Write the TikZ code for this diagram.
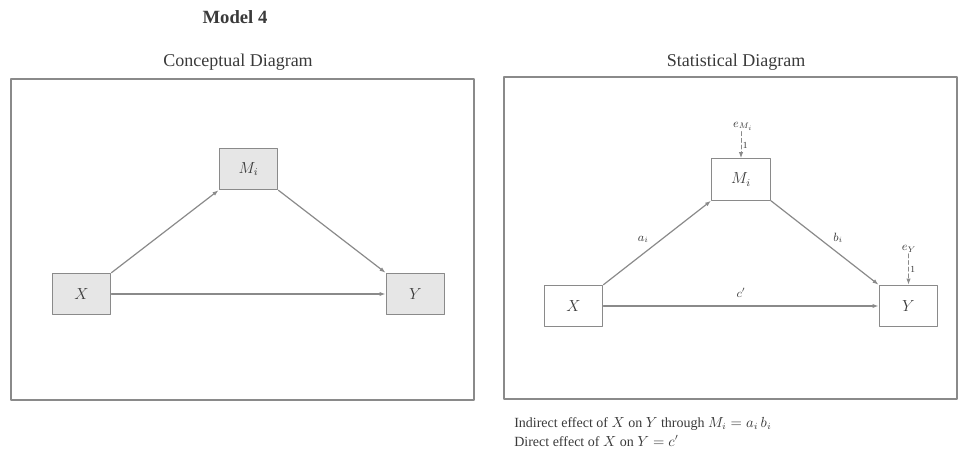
\documentclass[tikz,border=0pt]{standalone}
\usepackage{amsmath,amssymb}
\usepackage{fontspec}
\setmainfont{Liberation Serif}
\usepackage{xcolor}
\usepackage{tikz}
\usetikzlibrary{arrows.meta,positioning}
\definecolor{frame}{HTML}{8A8A8A}
\definecolor{ink}{HTML}{3A3A3A}
\definecolor{softgray}{HTML}{E6E6E6}
\tikzset{
    every picture/.style={line cap=round,line join=round},
    panel/.style={draw=frame,line width=1.1pt},
    varbox/.style={draw=frame,line width=0.9pt,minimum width=44pt,minimum height=31pt,
      inner sep=1pt,text=ink,font=\large},
    shaded/.style={fill=softgray},
    patharrow/.style={-{Latex[length=4.5pt,width=3.2pt]},draw=frame,line width=0.9pt},
    errarrow/.style={patharrow,densely dashed,line width=0.7pt},
    coef/.style={text=ink,font=\small,inner sep=1pt},
    heading/.style={text=ink,font=\fontsize{13.5}{16}\selectfont},
    notes/.style={text=ink,font=\fontsize{10.5}{12}\selectfont,anchor=west,inner sep=0pt}
}
\begin{document}
\begin{tikzpicture}[x=0.75pt,y=-0.75pt]
  \useasboundingbox (0,0) rectangle (961,459);
  \node[text=ink,font=\fontsize{14}{16}\selectfont\bfseries] (title) at (235,17) {Model 4};

  % conceptual diagram
  \node[heading] (ctitle) at (238,62) {Conceptual Diagram};
  \draw[panel] (11,79) rectangle (474,400);
  \node[varbox,shaded] (cx) at (81.5,294) {$X$};
  \node[varbox,shaded] (cm) at (248.5,169) {$M_i$};
  \node[varbox,shaded] (cy) at (415.5,294) {$Y$};
  \draw[patharrow] (cx.north east) -- (cm.south west);
  \draw[patharrow] (cm.south east) -- (cy.north west);
  \draw[patharrow] (cx.east) -- (cy.west);

  % statistical diagram
  \node[heading] (stitle) at (736,62) {Statistical Diagram};
  \draw[panel] (504,77) rectangle (957,399);
  \node[varbox] (sx) at (573.5,306) {$X$};
  \node[varbox] (sm) at (741,179.5) {$M_i$};
  \node[varbox] (sy) at (908.5,306) {$Y$};
  \node[coef] (em) at (743,126) {$e_{M_i}$};
  \node[coef] (ey) at (909,249) {$e_Y$};
  \draw[errarrow] (em.south -| sm.north) -- node[coef,right,font=\scriptsize]{1} (sm.north);
  \draw[errarrow] (ey.south -| sy.north) -- node[coef,right,font=\scriptsize]{1} (sy.north);
  \draw[patharrow] (sx.north east) -- node[coef,above left=2pt and 1pt,pos=0.45]{$a_i$} (sm.south west);
  \draw[patharrow] (sm.south east) -- node[coef,above right=2pt and 1pt,pos=0.55]{$b_i$} (sy.north west);
  \draw[patharrow] (sx.east) -- node[coef,above=5pt]{$c'$} (sy.west);

  \node[notes] (ind) at (514,424)
    {Indirect effect of $X$ on $Y$ through $M_i = a_i\,b_i$};
  \node[notes] (dir) at (514,441)
    {Direct effect of $X$ on $Y = c'$};
\end{tikzpicture}
\end{document}
